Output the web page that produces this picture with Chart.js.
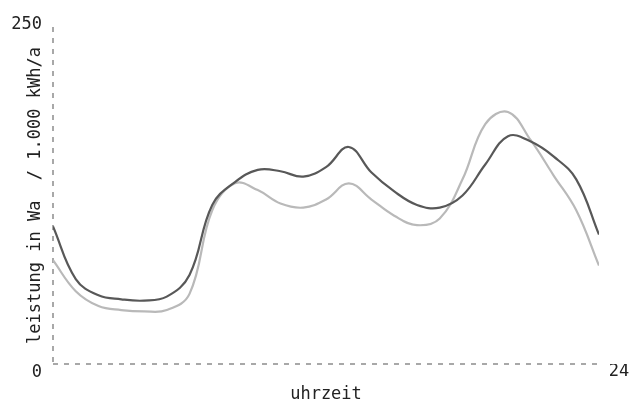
<!DOCTYPE html>
<html lang="de">
<head>
<meta charset="utf-8">
<title>Leistung</title>
<script src="https://cdn.jsdelivr.net/npm/chart.js@4.4.0/dist/chart.umd.min.js"></script>
<style>
    body { margin: 0; background: #fff; }
</style>
</head>
<body>
<canvas id="myChart" width="633" height="406"></canvas>
<script>
// hours of the day (x)
var hours = [0, 1, 2, 3, 4, 5, 6, 7, 8, 9, 10, 11, 12, 13, 14, 15, 16, 17, 18, 19, 20, 21, 22, 23, 24];
var darkLine = [102, 63, 51, 48, 47, 50, 66, 118, 135, 144, 143, 139, 146, 161, 142, 128, 118, 116, 125, 148, 169, 165, 154, 137, 96];
var lightLine = [77, 54, 43, 40, 39, 40, 52, 114, 134, 129, 119, 116, 122, 134, 122, 110, 103, 108, 137, 178, 187, 166, 140, 114, 73];
var yTicks = [0, 250];
var xTicks = [0, 24];

var mono = { family: 'DejaVu Sans Mono', size: 17 };

// only the grid line at 0 is shown, it acts as the dashed axis
var axisGrid = {
    display: true,
    drawTicks: false,
    lineWidth: 2,
    color: function (c) { return c.tick && c.tick.value === 0 ? '#a8a8a8' : 'rgba(0,0,0,0)'; }
};

function points(vals) {
    return hours.map(function (h, i) { return { x: h, y: vals[i] }; });
}

const ctx = document.getElementById('myChart').getContext('2d');
const myChart = new Chart(ctx, {
    type: 'line',
    data: {
        datasets: [{
            data: points(darkLine),
            borderColor: '#585858',
            borderWidth: 2.2,
            pointRadius: 0,
            tension: 0.4
        }, {
            data: points(lightLine),
            borderColor: '#b9b9b9',
            borderWidth: 2.2,
            pointRadius: 0,
            tension: 0.4
        }]
    },
    options: {
        responsive: false,
        animation: false,
        layout: { padding: { top: 27, right: 34, left: 0, bottom: 0 } },
        plugins: { legend: { display: false }, tooltip: { enabled: false } },
        scales: {
            x: {
                type: 'linear',
                min: 0,
                max: 24,
                grid: axisGrid,
                border: { display: false, dash: [5, 6] },
                afterBuildTicks: function (s) { s.ticks = xTicks.map(function (v) { return { value: v }; }); },
                afterFit: function (s) { s.height = 42; },
                ticks: {
                    font: mono,
                    color: '#222',
                    padding: -3,
                    labelOffset: 20,
                    maxRotation: 0,
                    callback: function (v) { return v === 24 ? '24' : ''; }
                },
                title: {
                    display: true,
                    text: 'uhrzeit',
                    font: mono,
                    color: '#222',
                    padding: { top: 0, bottom: 1 }
                }
            },
            y: {
                min: 0,
                max: 250,
                grid: axisGrid,
                border: { display: false, dash: [5, 6] },
                afterBuildTicks: function (s) { s.ticks = yTicks.map(function (v) { return { value: v }; }); },
                afterFit: function (s) { s.width = 53; },
                ticks: {
                    font: mono,
                    color: '#222',
                    padding: 11,
                    labelOffset: -2,
                    callback: function (v) { return v === 0 ? ['', '0'] : String(v); }
                },
                title: {
                    display: true,
                    text: 'leistung in Wa  / 1.000 kWh/a',
                    font: mono,
                    color: '#222',
                    padding: { top: 25, bottom: 0 }
                }
            }
        }
    }
});
</script>
</body>
</html>
